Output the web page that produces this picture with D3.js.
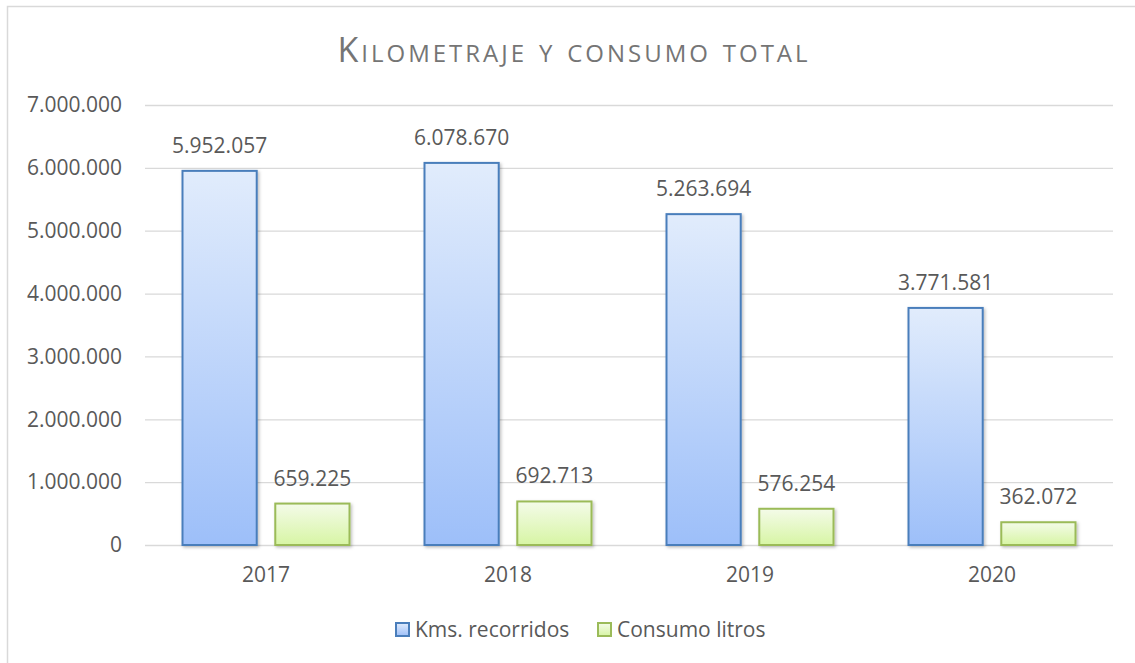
<!DOCTYPE html>
<html>
<head>
<meta charset="utf-8">
<script src="https://cdn.jsdelivr.net/npm/d3@7"></script>
<style>
  body { margin: 0; background: #fff; }
  text { font-family: "Open Sans", sans-serif; fill: #595959; }
</style>
</head>
<body>
<div id="chart_div"></div>
<script>
// chart data
const years = ["2017", "2018", "2019", "2020"];
const kms = [5952057, 6078670, 5263694, 3771581];
const litros = [659225, 692713, 576254, 362072];
const seriesNames = ["Kms. recorridos", "Consumo litros"];
const yTicks = [0, 1000000, 2000000, 3000000, 4000000, 5000000, 6000000, 7000000];

const es = d3.formatLocale({ decimal: ",", thousands: ".", grouping: [3], currency: ["", " €"] });
const fmt = es.format(",d");

const W = 1135, H = 663;
const margin = { top: 105, right: 22, bottom: 118, left: 145 };
const width = W - margin.left - margin.right,
      height = H - margin.top - margin.bottom;

const svg = d3.select("#chart_div").append("svg")
  .attr("width", W).attr("height", H);

const defs = svg.append("defs");
function grad(id, top, bottom) {
  const g = defs.append("linearGradient").attr("id", id)
    .attr("x1", 0).attr("y1", 0).attr("x2", 0).attr("y2", 1);
  g.append("stop").attr("offset", "0%").attr("stop-color", top);
  g.append("stop").attr("offset", "100%").attr("stop-color", bottom);
}
grad("gBlue", "#e1ecfc", "#9dbff9");
grad("gGreen", "#f4fbe9", "#d7f5a4");
defs.append("filter").attr("id", "shadow")
  .attr("x", "-20%").attr("y", "-20%").attr("width", "140%").attr("height", "140%")
  .append("feDropShadow")
  .attr("dx", 1.5).attr("dy", 1.5).attr("stdDeviation", 1.5)
  .attr("flood-color", "#000").attr("flood-opacity", 0.25);

// outer border of the chart area
svg.append("rect")
  .attr("x", 7.5).attr("y", 6.5).attr("width", 1150).attr("height", 700)
  .attr("fill", "none").attr("stroke", "#d9d9d9").attr("stroke-width", 1.5);

// title
svg.append("text")
  .attr("x", 574).attr("y", 62)
  .attr("text-anchor", "middle")
  .style("font-size", "34px")
  .style("font-variant", "small-caps")
  .style("letter-spacing", "3px")
  .style("fill", "#757575")
  .text("Kilometraje y consumo total");

const chart = svg.append("g")
  .attr("transform", `translate(${margin.left},${margin.top})`);

const x0 = d3.scaleBand().domain(years).range([0, width]).paddingInner(0).paddingOuter(0);
const x1 = d3.scaleBand().domain(seriesNames)
  .range([37.5, x0.bandwidth() - 37.5]).paddingInner(0.2).paddingOuter(0);
const y = d3.scaleLinear().domain([0, 7000000]).range([height, 0]);

// gridlines
chart.append("g")
  .call(d3.axisLeft(y).tickValues(yTicks).tickSize(-width).tickFormat(""))
  .call(g => g.select(".domain").remove())
  .call(g => g.selectAll("line").attr("stroke", "#d9d9d9").attr("stroke-width", 1.3));

// y labels
chart.append("g")
  .call(d3.axisLeft(y).tickValues(yTicks).tickSize(0).tickPadding(23).tickFormat(fmt))
  .call(g => g.select(".domain").remove())
  .call(g => g.selectAll("text").style("font-size", "21px").attr("fill", "#595959").style("font-family", "Open Sans, sans-serif"));

// x labels
chart.append("g")
  .attr("transform", `translate(0,${height})`)
  .call(d3.axisBottom(x0).tickSize(0).tickPadding(22))
  .call(g => g.select(".domain").remove())
  .call(g => g.selectAll("text").style("font-size", "21px").attr("fill", "#595959").style("font-family", "Open Sans, sans-serif"));

const rows = years.map((yr, i) => ({ year: yr, vals: [
  { name: seriesNames[0], v: kms[i], fill: "url(#gBlue)", stroke: "#4a7ebb" },
  { name: seriesNames[1], v: litros[i], fill: "url(#gGreen)", stroke: "#9bbb59" }
]}));

const groups = chart.selectAll(".grp").data(rows).join("g")
  .attr("class", "grp")
  .attr("transform", d => `translate(${x0(d.year)},0)`);

groups.selectAll("rect").data(d => d.vals).join("rect")
  .attr("x", d => x1(d.name))
  .attr("y", d => y(d.v))
  .attr("width", x1.bandwidth())
  .attr("height", d => height - y(d.v))
  .attr("fill", d => d.fill)
  .attr("stroke", d => d.stroke)
  .attr("stroke-width", 2)
  .attr("filter", "url(#shadow)");

groups.selectAll(".lbl").data(d => d.vals).join("text")
  .attr("class", "lbl")
  .attr("x", d => x1(d.name) + x1.bandwidth() / 2)
  .attr("y", d => y(d.v) - 18)
  .attr("text-anchor", "middle")
  .style("font-size", "21px")
  .text(d => fmt(d.v));

// legend
const legend = svg.append("g");
const legendItems = [
  { name: seriesNames[0], x: 395, fill: "url(#gBlue)", stroke: "#4a7ebb" },
  { name: seriesNames[1], x: 597, fill: "url(#gGreen)", stroke: "#9bbb59" }
];
legendItems.forEach(it => {
  legend.append("rect")
    .attr("x", it.x + 1).attr("y", 623).attr("width", 13).attr("height", 13)
    .attr("fill", it.fill).attr("stroke", it.stroke).attr("stroke-width", 2);
  legend.append("text")
    .attr("x", it.x + 20).attr("y", 637)
    .style("font-size", "21px")
    .text(it.name);
});
</script>
</body>
</html>
